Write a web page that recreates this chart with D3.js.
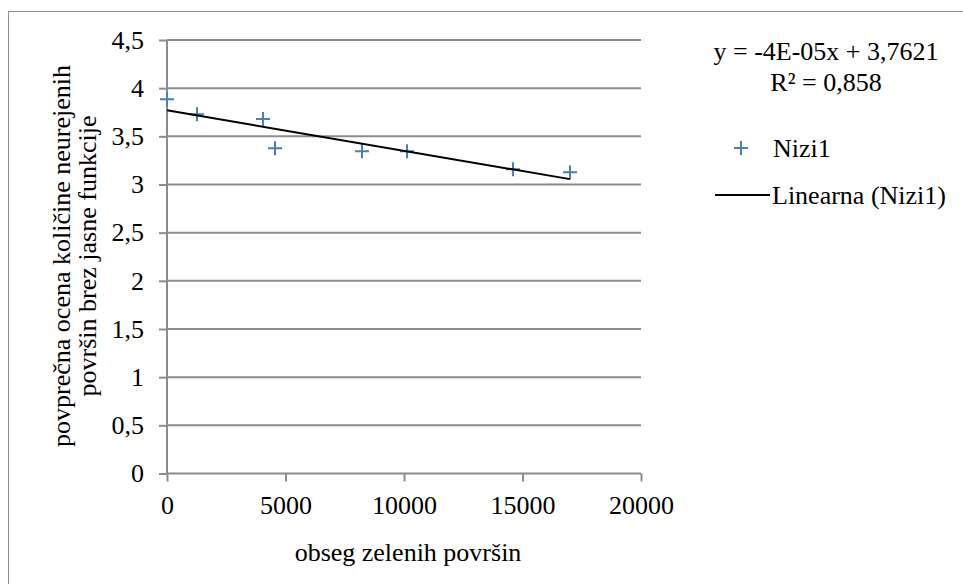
<!DOCTYPE html>
<html lang="en">
    <head>
        <meta charset="utf-8">
        <title>Obseg zelenih površin</title>
        <script src="https://d3js.org/d3.v7.min.js"></script>
        <style type="text/css">
        body { margin: 0; background: #fff; }
        </style>
    </head>
    <body>
        <svg width="963" height="584"></svg>

    <script type="text/javascript">

            // obseg zelenih površin
            const xValues = [0, 1266, 4050, 4557, 8228, 10127, 14599, 17004];
            // povprečna ocena
            const yValues = [3.886, 3.73, 3.68, 3.376, 3.345, 3.345, 3.158, 3.127];

            const xTicks = [0, 5000, 10000, 15000, 20000];
            const yTicks = [0, 0.5, 1, 1.5, 2, 2.5, 3, 3.5, 4, 4.5];

            const seriesName = "Nizi1";
            const trendName = "Linearna (Nizi1)";
            const equationText = "y = -4E-05x + 3,7621";
            const r2Text = "R² = 0,858";

            const serif = "'Liberation Serif', 'Times New Roman', serif";
            const fontSize = 26;

            const svg = d3.select("svg");
            const pLeft = 167, pRight = 641, pTop = 40, pBottom = 473.5;
            const fmt = d => String(d).replace(".", ",");

            const xScale = d3.scaleLinear().domain([0, 20000]).range([pLeft, pRight]);
            const yScale = d3.scaleLinear().domain([0, 4.5]).range([pBottom, pTop]);

            //outer frame (right/bottom edges are cut off in the picture)
            svg.append("rect")
               .attr("x", 8.5).attr("y", 11.5)
               .attr("width", 1000).attr("height", 1000)
               .attr("fill", "none")
               .attr("stroke", "#8c8c8c")
               .attr("stroke-width", 1);

            //gridlines
            svg.append("g")
               .selectAll("line")
               .data(yTicks.filter(d => d > 0))
               .enter()
               .append("line")
               .attr("x1", pLeft).attr("x2", pRight)
               .attr("y1", d => yScale(d)).attr("y2", d => yScale(d))
               .attr("stroke", "#8c8c8c")
               .attr("stroke-width", 2);

            //axes
            const bottomAxis = d3.axisBottom(xScale)
                                 .tickValues(xTicks)
                                 .tickSize(8)
                                 .tickPadding(14)
                                 .tickFormat(d => d);
            const leftAxis = d3.axisLeft(yScale)
                               .tickValues(yTicks)
                               .tickSize(8)
                               .tickPadding(15)
                               .tickFormat(fmt);

            const gx = svg.append("g")
               .attr("transform", "translate(0," + pBottom + ")")
               .call(bottomAxis);
            const gy = svg.append("g")
               .attr("transform", "translate(" + pLeft + ",0)")
               .call(leftAxis);

            [gx, gy].forEach(g => {
                g.attr("font-family", serif).attr("font-size", fontSize);
                g.select(".domain").remove();
                g.selectAll(".tick line").attr("stroke", "#8c8c8c").attr("stroke-width", 2);
                g.selectAll(".tick text").attr("fill", "#000");
            });

            svg.append("line")
               .attr("x1", pLeft).attr("x2", pRight)
               .attr("y1", pBottom).attr("y2", pBottom)
               .attr("stroke", "#8c8c8c").attr("stroke-width", 2);
            svg.append("line")
               .attr("x1", pLeft).attr("x2", pLeft)
               .attr("y1", pTop).attr("y2", pBottom)
               .attr("stroke", "#8c8c8c").attr("stroke-width", 2);

            //points
            const points = xValues.map((x, i) => ({x: x, y: yValues[i]}));
            const plus = "M-7,0H7M0,-7V7";

            svg.append("g")
               .selectAll("path")
               .data(points)
               .enter()
               .append("path")
               .attr("d", plus)
               .attr("transform", d => "translate(" + xScale(d.x) + "," + yScale(d.y) + ")")
               .attr("stroke", "#4a7ebb")
               .attr("stroke-width", 2)
               .attr("fill", "none");

            //linear trend (least squares)
            const mx = d3.mean(xValues), my = d3.mean(yValues);
            const slope = d3.sum(points, d => (d.x - mx) * (d.y - my)) / d3.sum(points, d => (d.x - mx) ** 2);
            const icpt = my - slope * mx;
            const xr = d3.extent(xValues);

            svg.append("line")
               .attr("x1", xScale(xr[0])).attr("y1", yScale(icpt + slope * xr[0]))
               .attr("x2", xScale(xr[1])).attr("y2", yScale(icpt + slope * xr[1]))
               .attr("stroke", "#000")
               .attr("stroke-width", 2);

            //text helper
            const label = (x, y, str, anchor, transform) => svg.append("text")
               .attr("x", x).attr("y", y)
               .attr("transform", transform || null)
               .attr("text-anchor", anchor || "start")
               .attr("font-family", serif)
               .attr("font-size", fontSize)
               .attr("fill", "#000")
               .text(str);

            //equation
            label(826, 60, equationText, "middle");
            label(826, 91, r2Text, "middle");

            //legend
            svg.append("path")
               .attr("d", plus)
               .attr("transform", "translate(741,148)")
               .attr("stroke", "#4a7ebb")
               .attr("stroke-width", 2)
               .attr("fill", "none");
            label(773, 157, seriesName);
            svg.append("line")
               .attr("x1", 715).attr("x2", 770)
               .attr("y1", 195).attr("y2", 195)
               .attr("stroke", "#000").attr("stroke-width", 2);
            label(772, 204, trendName);

            //axis titles
            label(408, 561, "obseg zelenih površin", "middle");
            label(0, 0, "povprečna ocena količine neurejenih", "middle", "translate(70,256) rotate(-90)");
            label(0, 0, "površin brez jasne funkcije", "middle", "translate(96,256) rotate(-90)");
        </script>
    </body>
</html>
